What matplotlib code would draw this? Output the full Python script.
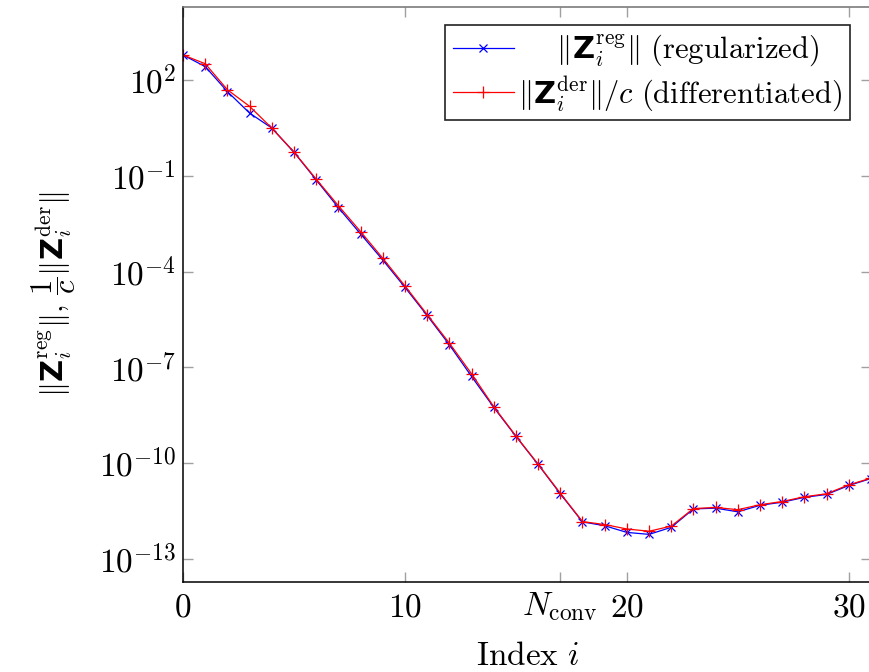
import numpy as np
import matplotlib
matplotlib.use("Agg")
import matplotlib.pyplot as plt
from matplotlib.ticker import NullLocator, FixedLocator, FixedFormatter

FS = 24
FS_LABEL = 22

plt.rcParams.update({
    "mathtext.fontset": "custom",
    "mathtext.rm": "cmr10",
    "mathtext.it": "cmmi10",
    "mathtext.bf": "DejaVu Sans:bold",
    "mathtext.sf": "cmss10",
    "mathtext.fallback": "cm",
    "font.size": FS,
})

# Norms per index
index = list(range(32))
z_reg = [6.0e2, 2.6e2, 4.3e1, 9.1e0, 3.1e0, 5.4e-1, 7.4e-2, 1.0e-2, 1.5e-3,
         2.3e-4, 3.2e-5, 4.2e-6, 5.1e-7, 5.2e-8, 5.6e-9, 6.9e-10, 9.1e-11,
         1.1e-11, 1.45e-12, 1.1e-12, 6.8e-13, 5.9e-13, 9.8e-13, 3.7e-12,
         3.9e-12, 3.0e-12, 4.8e-12, 6.0e-12, 8.5e-12, 1.05e-11, 2.0e-11,
         3.3e-11]
z_der = [6.0e2, 3.2e2, 4.9e1, 1.48e1, 3.1e0, 5.5e-1, 7.8e-2, 1.15e-2, 1.78e-3,
         2.6e-4, 3.55e-5, 4.5e-6, 5.75e-7, 6.3e-8, 5.9e-9, 7.1e-10, 9.3e-11,
         1.15e-11, 1.48e-12, 1.2e-12, 8.7e-13, 7.4e-13, 1.07e-12, 3.8e-12,
         4.1e-12, 3.5e-12, 5.0e-12, 6.3e-12, 8.9e-12, 1.1e-11, 2.1e-11,
         3.4e-11]

n_conv = 17
x_ticks = [0, 10, n_conv, 20, 30]
x_tick_labels = [r"$0$", r"$10$", r"$N_{\mathrm{conv}}$", r"$20$", r"$30$"]
y_ticks = [1e2, 1e-1, 1e-4, 1e-7, 1e-10, 1e-13]
y_tick_labels = [r"$10^{2}$", r"$10^{-1}$", r"$10^{-4}$", r"$10^{-7}$",
                 r"$10^{-10}$", r"$10^{-13}$"]

W, H = 869, 672
fig = plt.figure(figsize=(W / 100, H / 100), dpi=100)
left, right, top, bottom = 183, 871, 7, 582
ax = fig.add_axes([left / W, 1 - bottom / H, (right - left) / W, (bottom - top) / H])

ax.plot(index, z_reg, color="#0000ff", lw=0.9, marker="x", ms=6, mew=0.9,
        label=r"$\hspace{1.45}\|\mathbf{Z}_i^{\mathrm{reg}}\|\ \mathrm{(regularized)}$")
ax.plot(index, z_der, color="#ff0000", lw=0.9, marker="+", ms=8, mew=0.9,
        label=r"$\|\mathbf{Z}_i^{\mathrm{der}}\|/c\ \mathrm{(differentiated)}$")

ax.set_yscale("log")
ax.set_xlim(0, 31)
ax.set_ylim(10 ** -13.72, 10 ** 4.28)

ax.xaxis.set_major_locator(FixedLocator(x_ticks))
ax.xaxis.set_major_formatter(FixedFormatter(x_tick_labels))
ax.yaxis.set_major_locator(FixedLocator(y_ticks))
ax.yaxis.set_major_formatter(FixedFormatter(y_tick_labels))
ax.xaxis.set_minor_locator(NullLocator())
ax.yaxis.set_minor_locator(NullLocator())

ax.tick_params(which="major", direction="in", length=7, width=1.0,
               color="#a0a0a0", top=True, right=True, labelsize=FS)
ax.tick_params(axis="x", pad=6)
ax.tick_params(axis="y", pad=5)

for side in ("left", "bottom"):
    ax.spines[side].set_color("black")
    ax.spines[side].set_linewidth(1.1)
for side in ("top", "right"):
    ax.spines[side].set_color("#707070")
    ax.spines[side].set_linewidth(1.1)

ax.set_xlabel(r"$\mathrm{Index}\ i$", fontsize=FS, labelpad=11)
ax.set_ylabel(r"$\|\mathbf{Z}_i^{\mathrm{reg}}\|,\, \dfrac{1}{c}\|\mathbf{Z}_i^{\mathrm{der}}\|$",
              fontsize=FS_LABEL, labelpad=15)

leg = ax.legend(loc="upper right", bbox_to_anchor=(850 / W, 1 - 25 / H),
                bbox_transform=fig.transFigure, borderaxespad=0,
                fancybox=False, framealpha=1, edgecolor="#222222",
                handlelength=2.0, handletextpad=0.15, borderpad=0.25,
                labelspacing=0.15, fontsize=FS_LABEL)
leg.get_frame().set_linewidth(1.2)

fig.savefig("out.png", dpi=100)
